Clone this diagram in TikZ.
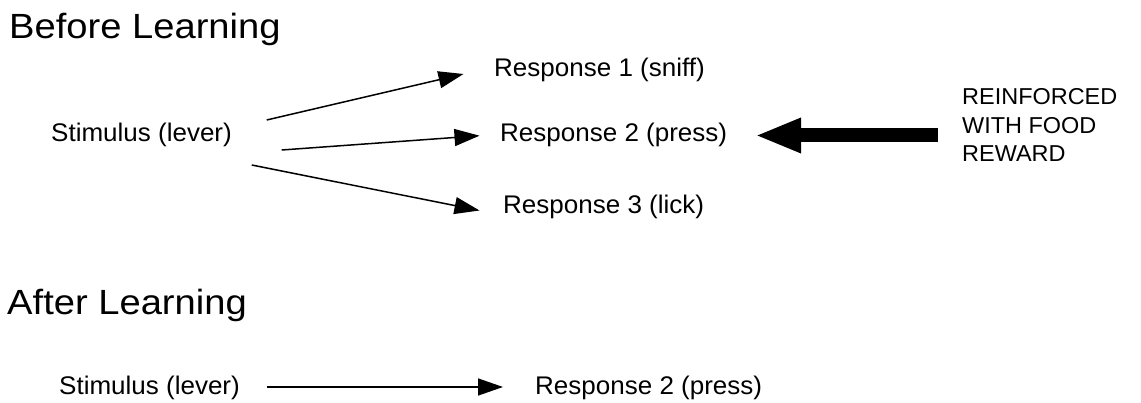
\documentclass[tikz,border=0pt]{standalone}
\usepackage{fontspec}
\setmainfont{Liberation Sans}
\newfontfamily\titlefont[FakeStretch=1.09]{Liberation Sans}
\newfontfamily\bodyfont[FakeStretch=1.02]{Liberation Sans}
\usetikzlibrary{arrows.meta}
\begin{document}
\begin{tikzpicture}[x=1pt,y=-1pt,
  ttl/.style={anchor=base west, inner sep=0pt, font=\titlefont\fontsize{35}{40}\selectfont},
  txt/.style={anchor=base west, inner sep=0pt, font=\bodyfont\fontsize{25.5}{30}\selectfont},
  caps/.style={anchor=north west, inner sep=0pt, align=left, font=\bodyfont\fontsize{23}{28.5}\selectfont},
  thinarrow/.style={line width=1.5pt, -{Triangle[length=25pt,width=17pt]}},
  thickarrow/.style={line width=14pt, -{Triangle[length=46pt,width=32pt]}}]
\useasboundingbox (0,0) rectangle (1141,403);
% titles
\node[ttl] (before) at (9,38.5) {Before Learning};
\node[ttl] (after) at (7,315) {After Learning};
% before learning
\node[txt] (stim) at (51,141.5) {Stimulus (lever)};
\node[txt] (r1) at (494,76.5) {Response 1 (sniff)};
\node[txt] (r2) at (500,141.5) {Response 2 (press)};
\node[txt] (r3) at (503,214) {Response 3 (lick)};
\node[caps] (reinf) at (962,88.3) {REINFORCED\\WITH FOOD\\REWARD};
% after learning
\node[txt] (stimb) at (59,394) {Stimulus (lever)};
\node[txt] (r2b) at (535,394) {Response 2 (press)};
% connector end points
\coordinate (a1s) at (266.7,120);
\coordinate (a1e) at (463.5,74);
\coordinate (a2s) at (281.7,150);
\coordinate (a2e) at (479.5,135.7);
\coordinate (a3s) at (251.7,165);
\coordinate (a3e) at (479.5,210.5);
\coordinate (bs) at (267,387);
\coordinate (be) at (503,387);
\coordinate (ts) at (938,135.5);
\coordinate (te) at (755,135.5);
% connectors
\draw[thinarrow] (a1s) -- (a1e);
\draw[thinarrow] (a2s) -- (a2e);
\draw[thinarrow] (a3s) -- (a3e);
\draw[thinarrow] (bs) -- (be);
\draw[thickarrow] (ts) -- (te);
\end{tikzpicture}
\end{document}
